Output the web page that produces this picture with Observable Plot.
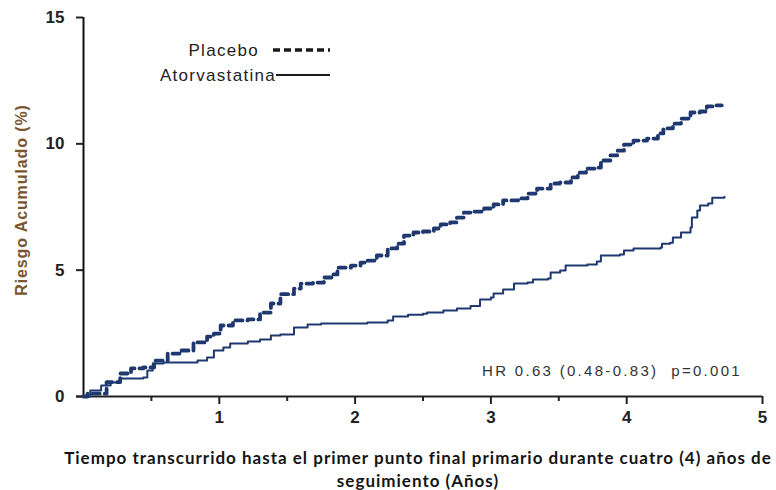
<!DOCTYPE html>
<html>
<head>
<meta charset="utf-8">
<script src="https://cdn.jsdelivr.net/npm/d3@7"></script>
<script src="https://cdn.jsdelivr.net/npm/@observablehq/plot@0.6"></script>
<style>
  body { margin: 0; background: #fff; }
  #wrap { position: relative; width: 776px; height: 490px; overflow: hidden; background: #fff; font-family: "Liberation Sans", Arial, sans-serif; }
  #chart { position: absolute; left: 0; top: 0; }
  #overlay { position: absolute; left: 0; top: 0; pointer-events: none; }
  #ylabel { position: absolute; left: 22px; top: 200px; transform: translate(-50%, -50%) rotate(-90deg); white-space: nowrap;
            font-family: "Liberation Sans", Arial, sans-serif; font-weight: bold; font-size: 16px; letter-spacing: 0.9px; color: #7a5530; }
  #xlabel { position: absolute; left: 30px; width: 776px; top: 446px; text-align: center; white-space: nowrap;
            font-family: Lato, "Open Sans", sans-serif; font-weight: bold; font-size: 17px; letter-spacing: 1px; line-height: 23px; color: #151515; }
</style>
</head>
<body>
<div id="wrap">
  <div id="chart"></div>
  <svg id="overlay" width="776" height="430"></svg>
  <div id="ylabel"></div>
  <div id="xlabel"></div>
</div>
<script>
// ---- data ----
const seriesNames = ["Placebo", "Atorvastatina"];

const placeboYears = [0, 0.03, 0.17, 0.27, 0.35, 0.44, 0.52, 0.62, 0.71, 0.81,
  0.91, 0.96, 1.01, 1.10, 1.21, 1.30, 1.38, 1.45, 1.55, 1.60,
  1.69, 1.77, 1.84, 1.87, 1.97, 2.04, 2.09, 2.16, 2.24, 2.31,
  2.36, 2.43, 2.50, 2.58, 2.63, 2.70, 2.75, 2.80, 2.87, 2.95,
  3.02, 3.09, 3.20, 3.27, 3.34, 3.44, 3.51, 3.59, 3.64, 3.70,
  3.77, 3.81, 3.88, 3.93, 3.98, 4.05, 4.15, 4.23, 4.27, 4.34,
  4.40, 4.47, 4.54, 4.59, 4.65, 4.70];
const placeboRisk = [0, 0.11, 0.57, 0.91, 1.11, 1.15, 1.42, 1.70, 1.82, 2.14,
  2.37, 2.49, 2.81, 3.01, 3.05, 3.32, 3.68, 4.05, 4.27, 4.47,
  4.51, 4.71, 4.83, 5.10, 5.18, 5.30, 5.38, 5.58, 5.86, 6.05,
  6.37, 6.49, 6.53, 6.65, 6.81, 6.89, 7.08, 7.28, 7.32, 7.44,
  7.60, 7.76, 7.84, 8.03, 8.23, 8.43, 8.47, 8.67, 8.86, 9.02,
  9.06, 9.34, 9.54, 9.73, 9.97, 10.13, 10.21, 10.41, 10.61, 10.80,
  11.00, 11.24, 11.28, 11.48, 11.52, 11.52];

const atorvaYears = [0, 0.05, 0.13, 0.20, 0.27, 0.44, 0.47, 0.51, 0.59, 0.84,
  0.91, 0.96, 1.03, 1.08, 1.21, 1.30, 1.38, 1.45, 1.55, 1.65,
  1.75, 2.09, 2.24, 2.28, 2.39, 2.50, 2.53, 2.65, 2.75, 2.85,
  2.92, 3.00, 3.02, 3.09, 3.17, 3.27, 3.31, 3.42, 3.44, 3.51,
  3.55, 3.71, 3.78, 3.81, 3.95, 3.98, 4.05, 4.25, 4.26, 4.32,
  4.34, 4.40, 4.47, 4.48, 4.52, 4.54, 4.60, 4.63, 4.72];
const atorvaRisk = [0, 0.24, 0.44, 0.55, 0.71, 0.75, 1.03, 1.31, 1.35, 1.42,
  1.54, 1.82, 1.94, 2.10, 2.18, 2.26, 2.41, 2.45, 2.73, 2.85,
  2.89, 2.93, 3.01, 3.17, 3.24, 3.28, 3.32, 3.40, 3.48, 3.58,
  3.84, 3.92, 4.08, 4.23, 4.47, 4.51, 4.63, 4.67, 4.91, 4.99,
  5.18, 5.22, 5.34, 5.58, 5.62, 5.78, 5.86, 5.90, 6.05, 6.09,
  6.29, 6.49, 6.69, 7.08, 7.36, 7.56, 7.64, 7.87, 7.91];

const yTicks = [0, 5, 10, 15];
const xMajorTicks = [1, 2, 3, 4, 5];
const xMinorTicks = [0.5, 1.5, 2.5, 3.5];
const yTitle = "Riesgo Acumulado (%)";
const xTitleLines = ["Tiempo transcurrido hasta el primer punto final primario durante cuatro (4) años de", "seguimiento (Años)"];
const hrText = "HR 0.63 (0.48-0.83)  p=0.001";

// ---- build ----
const navy = "#1f3870";
const placebo = placeboYears.map((t, i) => ({t, r: placeboRisk[i]}));
const atorva = atorvaYears.map((t, i) => ({t, r: atorvaRisk[i]}));

const chart = Plot.plot({
  width: 776,
  height: 430,
  marginLeft: 83,
  marginRight: 14,
  marginTop: 17,
  marginBottom: 34,
  x: {domain: [0, 5]},
  y: {domain: [0, 15]},
  style: {fontFamily: "Liberation Sans, Arial, sans-serif", fontSize: "17px", color: "#222", background: "white", overflow: "visible"},
  marks: [
    Plot.axisY({ticks: yTicks, tickSize: 7, tickPadding: 12, tickFormat: d => String(d), label: null, strokeWidth: 2, fontWeight: "bold"}),
    Plot.axisX({ticks: xMajorTicks, tickSize: 8, tickPadding: 6, tickFormat: d => String(d), label: null, strokeWidth: 2, fontWeight: "bold"}),
    Plot.axisX({ticks: xMinorTicks, tickSize: 5, tickFormat: () => "", label: null, strokeWidth: 2}),
    Plot.ruleY([0], {insetLeft: -7, stroke: "#222", strokeWidth: 2}),
    Plot.ruleX([0], {stroke: "#111", strokeWidth: 2}),
    Plot.line(atorva, {x: "t", y: "r", curve: "step-after", stroke: navy, strokeWidth: 2}),
    Plot.line(placebo, {x: "t", y: "r", curve: "step-after", stroke: navy, strokeWidth: 3.8, strokeDasharray: "7,5"})
  ]
});
document.getElementById("chart").appendChild(chart);

// titles
document.getElementById("ylabel").textContent = yTitle;
document.getElementById("xlabel").innerHTML = xTitleLines.join("<br>");

// legend + annotation overlay
const ov = d3.select("#overlay");
const legendRows = [
  {name: seriesNames[0], textEnd: 259, y: 50, x1: 273, x2: 330, w: 3.6, dash: "7,4"},
  {name: seriesNames[1], textEnd: 276, y: 75, x1: 276, x2: 330, w: 2, dash: null}
];
legendRows.forEach(r => {
  ov.append("text").attr("x", r.textEnd).attr("y", r.y + 6).attr("text-anchor", "end")
    .attr("font-family", "Liberation Sans, Arial, sans-serif").attr("font-size", 17)
    .attr("letter-spacing", "1.3px").attr("fill", "#222").text(r.name);
  const l = ov.append("line").attr("x1", r.x1).attr("x2", r.x2).attr("y1", r.y).attr("y2", r.y)
    .attr("stroke", "#1a1a1a").attr("stroke-width", r.w);
  if (r.dash) l.attr("stroke-dasharray", r.dash);
});
ov.append("text").attr("x", 742).attr("y", 376).attr("text-anchor", "end")
  .attr("font-family", "Liberation Sans, Arial, sans-serif").attr("font-size", 15)
  .attr("letter-spacing", "2.3px").attr("fill", "#333").attr("xml:space", "preserve")
  .style("white-space", "pre").text(hrText);
</script>
</body>
</html>
